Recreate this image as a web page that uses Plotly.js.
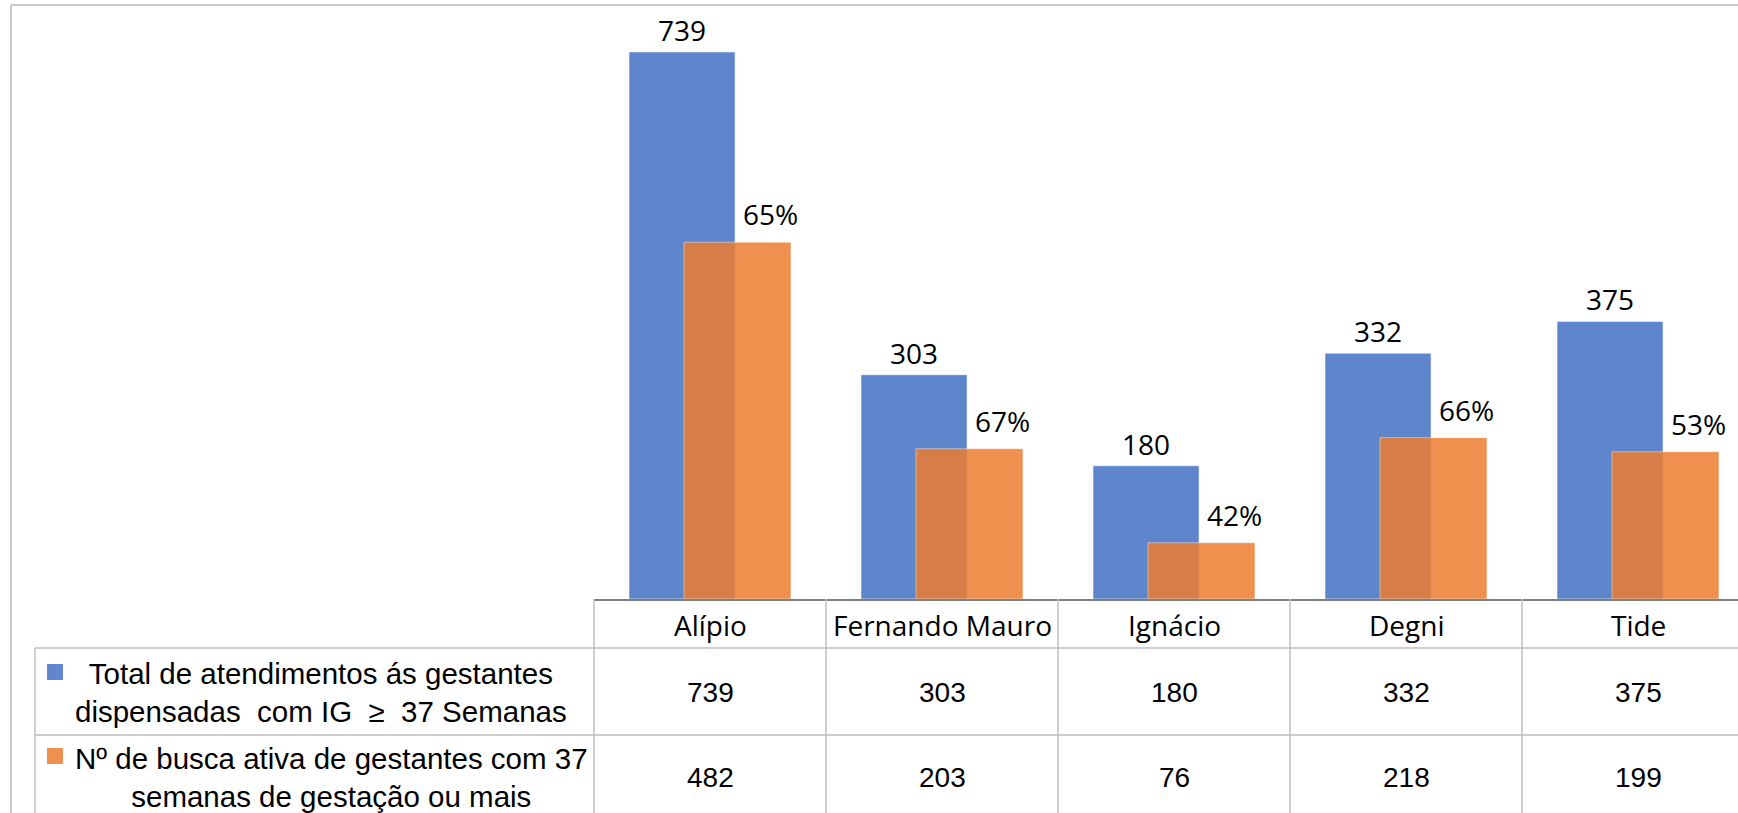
<!DOCTYPE html>
<html>
<head>
<meta charset="utf-8">
<script src="https://cdn.plot.ly/plotly-3.0.1.min.js"></script>
<style>html,body{margin:0;padding:0;background:#fff;}#chart{width:1738px;height:813px;}</style>
</head>
<body>
<div id="chart"></div>
<script>
// ---- data ----
const categories = ['Alípio', 'Fernando Mauro', 'Ignácio', 'Degni', 'Tide'];
const totalAtendimentos = [739, 303, 180, 332, 375];
const buscaAtiva = [482, 203, 76, 218, 199];
const seriesNames = [
  'Total de atendimentos ás gestantes<br>dispensadas&nbsp; com IG&nbsp; ≥&nbsp; 37 Semanas',
  'Nº de busca ativa de gestantes com 37<br>semanas de gestação ou mais'
];

// ---- styling / layout constants ----
const W = 1738, H = 813;
const plotLeft = 594, plotBottom = 599;
const blueColor = '#4472C4', orangeColor = '#ED7D31';
const barOpacity = 0.85;
const blueOffset = -0.349, blueWidth = 0.457;
const orangeOffset = -0.112, orangeWidth = 0.461;
const gridColor = '#bfbfbf';
const labelFont = 'Open Sans, Noto Sans, sans-serif';
const tableFont = 'Liberation Sans, Arial, sans-serif';

const px = x => (x - plotLeft) / (W - plotLeft);
const py = y => (plotBottom - y) / plotBottom;

const traces = [
  {
    type: 'bar', x: categories, y: totalAtendimentos, name: 'Total',
    offset: blueOffset, width: blueWidth,
    marker: {color: blueColor, opacity: barOpacity, line: {color: 'rgba(255,255,255,0.5)', width: 1}},
    hoverinfo: 'none'
  },
  {
    type: 'bar', x: categories, y: buscaAtiva, name: 'Busca',
    offset: orangeOffset, width: orangeWidth,
    marker: {color: orangeColor, opacity: barOpacity, line: {color: 'rgba(255,255,255,0.5)', width: 1}},
    hoverinfo: 'none'
  }
];

const annotations = [];
const shapes = [];

categories.forEach((c, i) => {
  // value label above blue bar
  annotations.push({
    x: i + blueOffset + blueWidth / 2, y: totalAtendimentos[i], xref: 'x', yref: 'y',
    text: String(totalAtendimentos[i]), showarrow: false, yanchor: 'middle', yshift: 22,
    font: {family: labelFont, size: 28, color: '#000'}
  });
  // percentage label near orange bar
  const pct = Math.round(buscaAtiva[i] / totalAtendimentos[i] * 100) + '%';
  annotations.push({
    x: i + orangeOffset + orangeWidth / 2, y: buscaAtiva[i], xref: 'x', yref: 'y',
    text: pct, showarrow: false, yanchor: 'middle', yshift: 28, xshift: 33,
    font: {family: labelFont, size: 28, color: '#000'}
  });
  // table header
  annotations.push({
    x: i, y: py(625), xref: 'x', yref: 'paper', text: c, showarrow: false,
    yanchor: 'middle', font: {family: labelFont, size: 28, color: '#000'}
  });
  // table values
  annotations.push({
    x: i, y: py(692), xref: 'x', yref: 'paper', text: String(totalAtendimentos[i]), showarrow: false,
    yanchor: 'middle', font: {family: tableFont, size: 28, color: '#000'}
  });
  annotations.push({
    x: i, y: py(777), xref: 'x', yref: 'paper', text: String(buscaAtiva[i]), showarrow: false,
    yanchor: 'middle', font: {family: tableFont, size: 28, color: '#000'}
  });
});

// legend rows in table
const legendRowsY = [692, 777];
const legendSquareY = [672, 756];
[blueColor, orangeColor].forEach((col, k) => {
  annotations.push({
    x: px(73), y: py(legendRowsY[k]), xref: 'paper', yref: 'paper', text: seriesNames[k],
    showarrow: false, xanchor: 'left', yanchor: 'middle', align: 'center',
    font: {family: tableFont, size: 29.5, color: '#000'}
  });
  shapes.push({
    type: 'rect', xref: 'paper', yref: 'paper',
    x0: px(47), x1: px(63), y0: py(legendSquareY[k] - 8), y1: py(legendSquareY[k] + 8),
    fillcolor: col, opacity: barOpacity, line: {width: 0}
  });
});

// table grid lines
const line = (x0, y0, x1, y1, color, w) => shapes.push({
  type: 'line', xref: 'paper', yref: 'paper',
  x0: px(x0), x1: px(x1), y0: py(y0), y1: py(y1), line: {color: color, width: w}
});
line(35, 648, W, 648, gridColor, 1.5);
line(35, 735, W, 735, gridColor, 1.5);
line(35, 648, 35, H, gridColor, 1.5);
for (let k = 0; k <= categories.length; k++) {
  const xx = plotLeft + k * 232;
  if (xx < W) line(xx, plotBottom, xx, H, gridColor, 1.5);
}
// chart border
line(11, 5, W, 5, '#c8c8c8', 2);
line(11, 5, 11, H, '#c8c8c8', 2);

const layout = {
  width: W, height: H,
  margin: {l: plotLeft, r: 0, t: 0, b: H - plotBottom, pad: 0},
  paper_bgcolor: '#fff', plot_bgcolor: 'rgba(0,0,0,0)',
  barmode: 'overlay', showlegend: false,
  xaxis: {
    type: 'category', range: [-0.5, categories.length - 0.5 - 16 / 232],
    showticklabels: false, ticks: '', showgrid: false, zeroline: false,
    showline: true, linecolor: '#7f7f7f', linewidth: 2, fixedrange: true
  },
  yaxis: {
    range: [0, 809.2], showticklabels: false, ticks: '', showgrid: false,
    zeroline: false, showline: false, fixedrange: true
  },
  annotations: annotations,
  shapes: shapes
};

Plotly.newPlot('chart', traces, layout, {displayModeBar: false, staticPlot: true});
</script>
</body>
</html>
